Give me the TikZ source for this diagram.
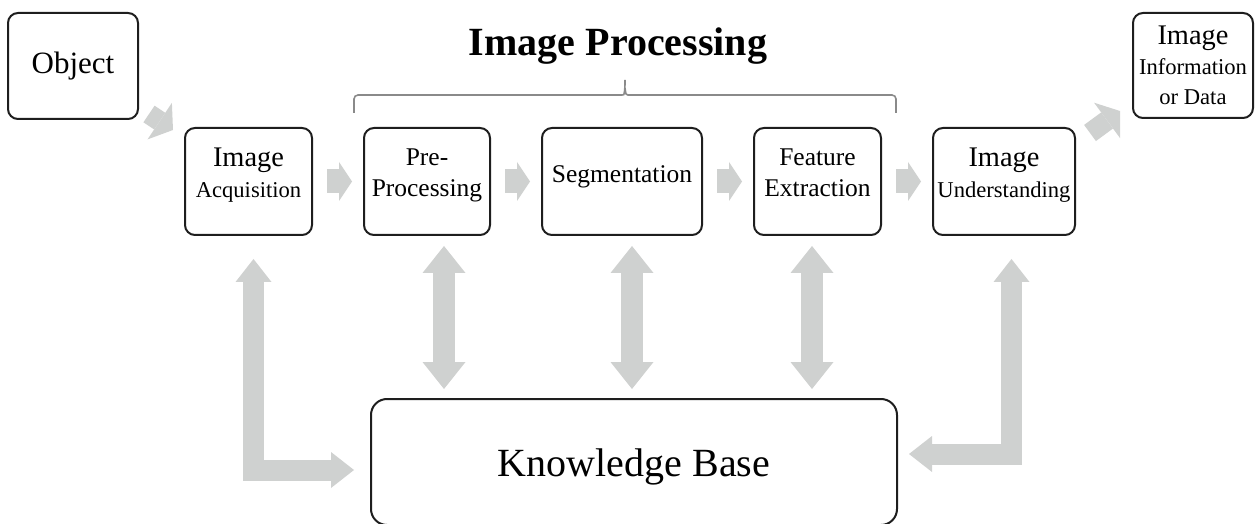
\documentclass[tikz,border=0pt]{standalone}
\usepackage{fontspec}
\setmainfont{Liberation Serif}
\usetikzlibrary{arrows.meta, positioning, calc}
\definecolor{boxline}{HTML}{1E1E1E}
\definecolor{arrgray}{HTML}{CFD1D0}
\definecolor{bracegray}{HTML}{8A8A8A}
\newcommand{\stagebig}{\fontsize{14.2}{15.5}\selectfont}
\newcommand{\stagesmall}{\fontsize{11.3}{15.5}\selectfont}
\newcommand{\stagemid}{\fontsize{12.75}{15.5}\selectfont}

\begin{document}
\begin{tikzpicture}[
    x=0.5pt, y=-0.5pt,
    stage/.style={draw=boxline, line width=1pt, rounded corners=5pt, minimum width=#1, minimum height=53.5pt, inner sep=1pt, align=center, text depth=8.5pt},
    hblk/.style={draw=arrgray, line width=12pt, -{Triangle[width=19.5pt, length=6.5pt, line width=0pt]}, shorten <=7pt, shorten >=5.5pt},
    dgblk/.style={draw=arrgray, line width=10pt, -{Triangle[width=22pt, length=8pt, line width=0pt]}},
    dblk/.style={draw=arrgray, line width=11pt, {Triangle[width=21.5pt, length=13.5pt, line width=0pt]}-{Triangle[width=21.5pt, length=13.5pt, line width=0pt]}, shorten <=5pt, shorten >=4.5pt},
    lblk/.style={draw=arrgray, line width=10.5pt, line join=miter, {Triangle[width=18pt, length=11.5pt, line width=0pt]}-{Triangle[width=18pt, length=11.5pt, line width=0pt]}},
    bracel/.style={draw=bracegray, line width=0.8pt, rounded corners=2pt},
]
    \useasboundingbox (0,0) rectangle (1255,524);

    % Title and brace over the processing stages
    \node[font=\fontsize{20}{24}\selectfont\bfseries, anchor=base] (title) at (618,56) {Image Processing};
    \draw[bracel] (354,113) -- (354,95) -- (618,95) .. controls (624,95) .. (625,88) -- (625,80);
    \draw[bracel] (896,113) -- (896,95) -- (632,95) .. controls (626,95) .. (625,88);

    % Input and output
    \node[stage=65pt, minimum height=53pt, text depth=, font=\fontsize{15.5}{18}\selectfont] (obj) at (73,66) {Object};
    \node[stage=60pt, minimum height=52.5pt, text depth=, font=\fontsize{14.2}{15}\selectfont] (info) at (1193,65.5) {Image\\{\fontsize{11.3}{15}\selectfont Information}\\{\fontsize{11.3}{15}\selectfont or Data}};

    % Stages
    \node[stage=63.5pt, font=\stagebig] (acq) at (248.5,181.5) {Image\\{\stagesmall Acquisition}};
    \node[stage=63pt, font=\stagemid] (pre) at (427,181.5) {Pre-\\Processing};
    \node[stage=80pt, font=\stagemid, text depth=7.8pt] (seg) at (622,181.5) {Segmentation};
    \node[stage=63.5pt, font=\stagemid] (feat) at (817.5,181.5) {Feature\\Extraction};
    \node[stage=71pt, font=\stagebig] (und) at (1004,181.5) {Image\\{\stagesmall Understanding}};

    % Knowledge base
    \node[stage=263pt, minimum height=63pt, rounded corners=8pt, text depth=, text height=18.7pt, font=\fontsize{20}{24}\selectfont] (kb) at (634,462) {Knowledge Base};

    % Flow arrows
    \draw[dgblk] ($(obj.south east)+(10,-6)$) -- ($(acq.north west)+(-11,3)$);
    \draw[hblk] (acq) -- (pre);
    \draw[hblk] (pre) -- (seg);
    \draw[hblk] (seg) -- (feat);
    \draw[hblk] (feat) -- (und);
    \draw[dgblk] ($(und.north east)+(14,6)$) -- ($(info.south west)+(-12,-8)$);

    % Links to the knowledge base
    \draw[dblk] ($(pre.south)+(17,0)$) -- ($(pre.south |- kb.north)+(17,0)$);
    \draw[dblk] ($(seg.south)+(10,0)$) -- ($(seg.south |- kb.north)+(10,0)$);
    \draw[dblk] ($(feat.south)+(-5.5,0)$) -- ($(feat.south |- kb.north)+(-5.5,0)$);
    \draw[lblk, shorten <=11.5pt, shorten >=8pt] ($(acq.south)+(5,0)$) |- ($(kb.west)+(0,8)$);
    \draw[lblk, shorten <=11.5pt, shorten >=5.5pt] ($(und.south)+(7.5,0)$) |- ($(kb.east)+(0,-8)$);
\end{tikzpicture}
\end{document}
